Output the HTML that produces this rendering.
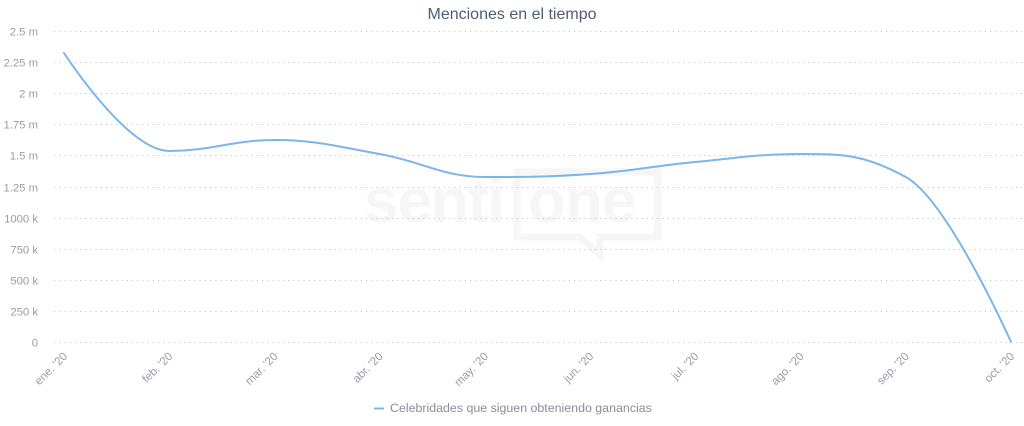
<!DOCTYPE html>
<html>
<head>
<meta charset="utf-8">
<style>
html,body{margin:0;padding:0;background:#fff;}
body{width:1024px;height:426px;overflow:hidden;}
svg{display:block;font-family:"Liberation Sans","DejaVu Sans",sans-serif;}
</style>
</head>
<body>
<svg id="c" width="1024" height="426" viewBox="0 0 1024 426" xmlns="http://www.w3.org/2000/svg">
  <rect x="0" y="0" width="1024" height="426" fill="#ffffff"/>
  <!-- watermark -->
  <g fill="none" stroke="#f6f6f6" stroke-width="7">
    <path d="M517 172 L658 172 L658 237 L600 237 L600 255 L580 237 L517 237 Z"/>
  </g>
  <text x="364" y="222" font-size="62" font-weight="bold" fill="#f6f6f6" style="letter-spacing:-1px">senti</text>
  <text x="528" y="222" font-size="62" font-weight="bold" fill="#f6f6f6" style="letter-spacing:-1px">one</text>

  <text x="512" y="19" text-anchor="middle" font-size="16" fill="#4f5d73">Menciones en el tiempo</text>

  <g id="grid" stroke="#c6c6c6" stroke-width="1" stroke-dasharray="1.2,4"></g>
  <g id="ylab" font-size="11.3" fill="#9a9aad" text-anchor="end"></g>
  <g id="xlab" font-size="11.5" fill="#9a9aad" text-anchor="end"></g>

  <path id="line" d="" fill="none" stroke="#7cb5ec" stroke-width="2" stroke-linejoin="round" stroke-linecap="round"/>

  <line x1="374" y1="408.5" x2="384" y2="408.5" stroke="#7cb5ec" stroke-width="2"/>
  <text x="390" y="412" font-size="12.4" fill="#8a8c9c">Celebridades que siguen obteniendo ganancias</text>
</svg>
<script>
(function(){
  var NS="http://www.w3.org/2000/svg";
  var grid=document.getElementById('grid'), yl=document.getElementById('ylab'), xl=document.getElementById('xlab');
  var labels=["0","250 k","500 k","750 k","1000 k","1.25 m","1.5 m","1.75 m","2 m","2.25 m","2.5 m"];
  var y0=342, step=31.1;
  for(var i=0;i<labels.length;i++){
    var y=Math.round(y0-i*step)+0.5;
    var l=document.createElementNS(NS,'line');
    l.setAttribute('x1',54);l.setAttribute('x2',1022);l.setAttribute('y1',y);l.setAttribute('y2',y);
    grid.appendChild(l);
    var t=document.createElementNS(NS,'text');
    t.setAttribute('x',38);t.setAttribute('y',y+4);t.textContent=labels[i];
    yl.appendChild(t);
  }
  var months=["ene. '20","feb. '20","mar. '20","abr. '20","may. '20","jun. '20","jul. '20","ago. '20","sep. '20","oct. '20"];
  var xs=[];
  for(var j=0;j<10;j++){xs.push(64+j*(1011-64)/9);}
  for(var j=0;j<10;j++){
    var t=document.createElementNS(NS,'text');
    var x=xs[j]+4, y=357;
    t.setAttribute('x',x);t.setAttribute('y',y);
    t.setAttribute('transform','rotate(-45 '+x+' '+y+')');
    t.textContent=months[j];
    xl.appendChild(t);
  }
  var ys=[53,151,140,154,177,174,162,154,177,342];
  var pts=xs.map(function(x,i){return {x:x,y:ys[i]};});
  var sm=1.5,den=2.5;
  for(var i=1;i<pts.length-1;i++){
    var p=pts[i],a=pts[i-1],b=pts[i+1];
    var lcx=(sm*p.x+a.x)/den, lcy=(sm*p.y+a.y)/den;
    var rcx=(sm*p.x+b.x)/den, rcy=(sm*p.y+b.y)/den;
    if(rcx!==lcx){
      var corr=((rcy-lcy)*(rcx-p.x))/(rcx-lcx)+p.y-rcy;
      lcy+=corr; rcy+=corr;
    }
    if(lcy>a.y&&lcy>p.y){lcy=Math.max(a.y,p.y);rcy=2*p.y-lcy;}
    else if(lcy<a.y&&lcy<p.y){lcy=Math.min(a.y,p.y);rcy=2*p.y-lcy;}
    if(rcy>b.y&&rcy>p.y){rcy=Math.max(b.y,p.y);lcy=2*p.y-rcy;}
    else if(rcy<b.y&&rcy<p.y){rcy=Math.min(b.y,p.y);lcy=2*p.y-rcy;}
    p.lcx=lcx;p.lcy=lcy;p.rcx=rcx;p.rcy=rcy;
  }
  var d="M "+pts[0].x+" "+pts[0].y;
  for(var i=1;i<pts.length;i++){
    var p=pts[i],a=pts[i-1];
    d+=" C "+(a.rcx!==undefined?a.rcx:a.x)+" "+(a.rcy!==undefined?a.rcy:a.y)+" "+(p.lcx!==undefined?p.lcx:p.x)+" "+(p.lcy!==undefined?p.lcy:p.y)+" "+p.x+" "+p.y;
  }
  document.getElementById('line').setAttribute('d',d);
})();
</script>
</body>
</html>
